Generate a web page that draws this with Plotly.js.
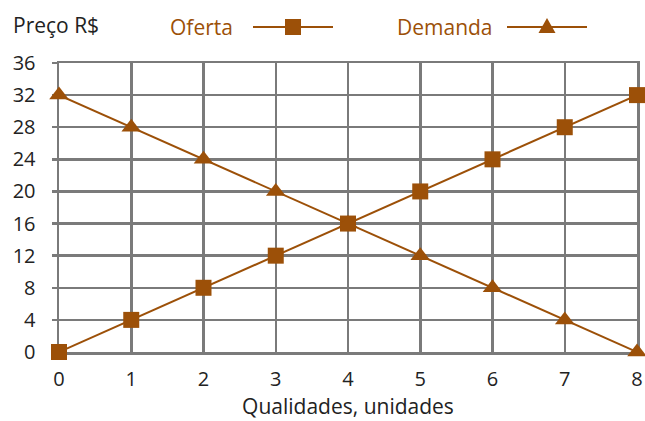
<!DOCTYPE html>
<html><head><meta charset="utf-8">
<script src="https://cdn.plot.ly/plotly-3.0.1.min.js"></script>
<style>html,body{margin:0;padding:0;background:#fff}#chart{width:645px;height:421px}</style>
</head><body><div id="chart"></div>
<script>
const quantidades = [0, 1, 2, 3, 4, 5, 6, 7, 8];
const oferta = [0, 4, 8, 12, 16, 20, 24, 28, 32];
const demanda = [32, 28, 24, 20, 16, 12, 8, 4, 0];
const yTicks = [0, 4, 8, 12, 16, 20, 24, 28, 32, 36];

const brown = '#9C5008';
const grid = '#7a7a7a';
const font = 'Open Sans, sans-serif';
const ink = '#222';

const traces = [
  {x: quantidades, y: oferta, name: 'Oferta', mode: 'lines+markers', cliponaxis: false,
   line: {color: brown, width: 2}, marker: {symbol: 'square', size: 16, color: brown}},
  {x: quantidades, y: demanda, name: 'Demanda', mode: 'lines+markers', cliponaxis: false,
   line: {color: brown, width: 2}, marker: {symbol: 'triangle-up', size: 17, color: brown}}
];

const W = 578, H = 289;
const px = v => (v - 59) / W;
const py = v => (352 - v) / H;
const legY = py(27);

const layout = {
  width: 645, height: 421,
  margin: {l: 59, r: 8, t: 63, b: 69},
  paper_bgcolor: '#fff', plot_bgcolor: '#fff',
  showlegend: false,
  font: {family: font, size: 20, color: ink},
  xaxis: {range: [0, 8], tickvals: quantidades, showgrid: true, gridcolor: grid, gridwidth: 2.5,
    zeroline: false, showline: true, mirror: true, linecolor: grid, linewidth: 2.5, layer: 'below traces',
    ticks: '', ticklabelstandoff: 7,
    title: {text: 'Qualidades, unidades', font: {family: font, size: 21, color: ink}, standoff: 9},
    tickfont: {family: font, size: 20, color: ink}},
  yaxis: {range: [0, 36], tickvals: yTicks, showgrid: true, gridcolor: grid, gridwidth: 2.5,
    zeroline: false, showline: true, mirror: true, linecolor: grid, linewidth: 2.5, layer: 'below traces',
    ticks: 'outside', ticklen: 5, tickwidth: 2.5, tickcolor: grid,
    ticklabelstandoff: 12, tickfont: {family: font, size: 20, color: ink}},
  annotations: [
    {text: 'Preço R$', xref: 'paper', yref: 'paper', x: px(11), y: py(25), xanchor: 'left', yanchor: 'middle',
     showarrow: false, font: {family: font, size: 21, color: ink}},
    {text: 'Oferta', xref: 'paper', yref: 'paper', x: px(235), y: legY, xanchor: 'right', yanchor: 'middle',
     showarrow: false, font: {family: font, size: 21, color: brown}},
    {text: 'Demanda', xref: 'paper', yref: 'paper', x: px(495), y: legY, xanchor: 'right', yanchor: 'middle',
     showarrow: false, font: {family: font, size: 21, color: brown}}
  ],
  shapes: [
    {type: 'line', xref: 'paper', yref: 'paper', x0: px(253), x1: px(333), y0: legY, y1: legY, line: {color: brown, width: 2}},
    {type: 'rect', xref: 'paper', yref: 'paper', xsizemode: 'pixel', ysizemode: 'pixel',
     xanchor: px(293), yanchor: legY, x0: -8, x1: 8, y0: -8, y1: 8, fillcolor: brown, line: {width: 0}},
    {type: 'line', xref: 'paper', yref: 'paper', x0: px(507), x1: px(587), y0: legY, y1: legY, line: {color: brown, width: 2}},
    {type: 'path', xref: 'paper', yref: 'paper', xsizemode: 'pixel', ysizemode: 'pixel',
     xanchor: px(547), yanchor: legY, path: 'M -8.5 -6 L 8.5 -6 L 0 9 Z', fillcolor: brown, line: {width: 0}}
  ]
};

Plotly.newPlot('chart', traces, layout, {displayModeBar: false, staticPlot: true});
</script></body></html>
